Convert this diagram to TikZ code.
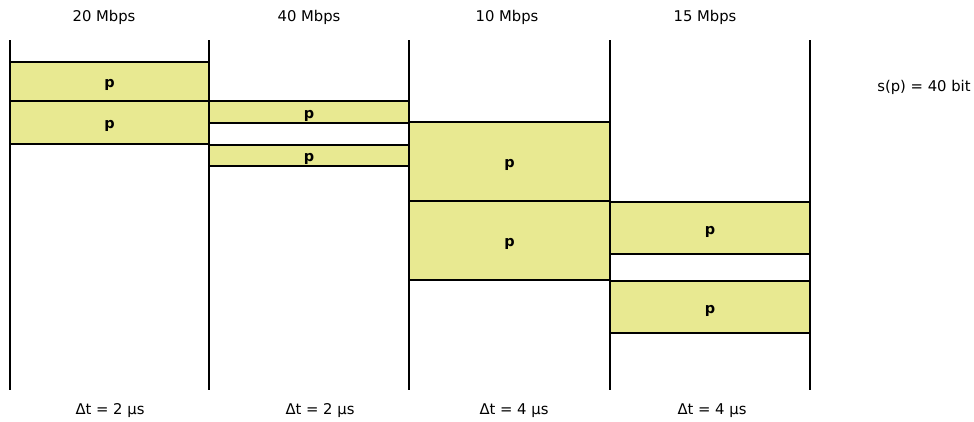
\documentclass[tikz,border=0pt]{standalone}
\usepackage{fontspec}
\setmainfont{DejaVu Sans}
\definecolor{pktfill}{RGB}{232,233,145}
\begin{document}
\begin{tikzpicture}[x=1pt, y=-1pt,
        pkt/.style={draw, line width=1.7pt, fill=pktfill, inner sep=0pt, minimum width=200pt, text height=12pt, text depth=0pt, font=\bfseries\fontsize{14.5}{16}\selectfont},
        lbl/.style={font=\fontsize{14.8}{17}\selectfont}]
            \useasboundingbox (0,0) rectangle (974,421);

            \node[pkt, minimum height=39pt] (AA) at (109.5, 81.5) {p};
            \node[pkt, minimum height=43pt] (AB) at (109.5, 122.5) {p};

            \node[pkt, minimum height=22pt] (BA) at (309, 112) {p};
            \node[pkt, minimum height=21pt] (BB) at (309, 155.5) {p};

            \node[pkt, minimum height=79pt] (CA) at (509.5, 161.5) {p};
            \node[pkt, minimum height=79pt] (CB) at (509.5, 240.5) {p};

            \node[pkt, minimum height=52pt] (DA) at (710, 228) {p};
            \node[pkt, minimum height=52pt] (DB) at (710, 307) {p};

            \draw[line width=1.7pt] (10, 40) -- (10, 390);
            \draw[line width=1.7pt] (209, 40) -- (209, 390);
            \draw[line width=1.7pt] (409, 40) -- (409, 390);
            \draw[line width=1.7pt] (610, 40) -- (610, 390);
            \draw[line width=1.7pt] (810, 40) -- (810, 390);

            \node[lbl] (RA) at (104, 17) {20 Mbps};
            \node[lbl] (RB) at (309, 17) {40 Mbps};
            \node[lbl] (RC) at (507, 17) {10 Mbps};
            \node[lbl] (RD) at (705, 17) {15 Mbps};

            \node[lbl] (TA) at (110, 411) {Δt = 2 μs};
            \node[lbl] (TB) at (320, 411) {Δt = 2 μs};
            \node[lbl] (TC) at (514, 411) {Δt = 4 μs};
            \node[lbl] (TD) at (712, 411) {Δt = 4 μs};

            \node[lbl] (S) at (924, 87) {s(p) = 40 bit};
        \end{tikzpicture}
\end{document}
